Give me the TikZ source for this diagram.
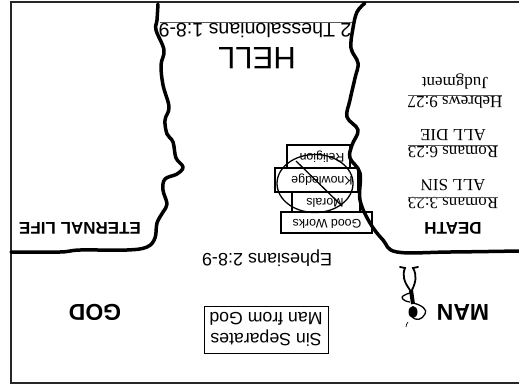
\documentclass[tikz,border=0pt]{standalone}
\usepackage{fontspec}
\setmainfont{Liberation Sans}
\newfontfamily\serifface{Liberation Serif}
\newcommand{\fs}[1]{\fontsize{#1}{#1}\selectfont}
\tikzset{
  x=1pt,y=-1pt,
  upside/.style={rotate=180,inner sep=0pt,text=black},
  sanslabel/.style={upside,font=\fs{18}},
  boldlabel/.style={upside,font=\fs{17}\bfseries},
  biglabel/.style={upside,font=\fs{23}\bfseries},
  seriflabel/.style={upside,font=\serifface\fs{17}},
  booklabel/.style={upside,font=\fs{12.4}},
  chasm/.style={line width=3.5pt,line cap=round,line join=round},
  framing/.style={line width=1.3pt,draw=black!85},
  bookbox/.style={line width=1.2pt,draw=black},
  rule/.style={line width=0.8pt,draw=black!65},
}
\begin{document}
\begin{tikzpicture}
\useasboundingbox (0,0) rectangle (519,389);
\fill[white] (0,0) rectangle (519,389);
% frame
\draw[framing] (519,2) -- (11,2) -- (11,383) -- (519,383);
% thin line over the hell label
\draw[rule] (160,22) -- (352,22);
% books
\draw[bookbox] (287,145) rectangle (350,168);
\draw[bookbox] (292,192) rectangle (360,212);
\draw[bookbox] (275,168) rectangle (358,192);
\draw[bookbox] (281,212) rectangle (372,233);
\node[booklabel] (religion) at (322,157) {Religion};
\node[booklabel] (knowledge) at (322,180) {Knowledge};
\node[booklabel] (morals) at (325,203) {Morals};
\node[booklabel] (works) at (327,224) {Good Works};
% prohibition sign
\draw[line width=1.3pt] (315,183.5) ellipse [x radius=38,y radius=29];
\draw[line width=1.3pt] (296,161) -- (341,205);
% left chasm edge
\draw[chasm] plot[smooth,tension=0.6] coordinates {
 (158,4) (157,20) (156,30) (164,50) (161,65) (163,85) (169,107) (165,120)
 (167,134) (173,142) (176,158) (183,167) (177,174) (165,179) (163,190) (167,204)
 (163,212) (157,223) (155,238) (147,247) (127,250) (80,250) (60,252) (11,252)};
% right chasm edge
\draw[chasm] plot[smooth,tension=0.6] coordinates {
 (365,3) (357,12) (353,28) (351,48) (358,63) (355,78) (350,100) (347,117)
 (358,130) (352,145) (350,158) (360,173) (360,200) (370,223) (383,240) (397,252)
 (450,252) (519,251)};
% labels
\node[upside,font=\fs{31}] (hell) at (257,58) {HELL};
\node[upside,font=\fs{19.6}] (thess) at (255,31) {2 Thessalonians 1:8-9};
\node[boldlabel] (death) at (453,228) {DEATH};
\node[boldlabel] (life) at (80,228) {ETERNAL LIFE};
\node[biglabel] (man) at (463,312) {MAN};
\node[biglabel] (god) at (95,312) {GOD};
\node[sanslabel] (eph) at (267,258) {Ephesians 2:8-9};
\node[draw,line width=0.9pt,rotate=180,minimum width=124pt,minimum height=47pt,align=center,font=\fs{17.7},inner sep=0pt] (sin) at (266,329.5) {Sin Separates\\[3pt]Man from God};
% verses
\node[seriflabel] (r3) at (453,203) {Romans 3:23};
\node[seriflabel] (allsin) at (453,185) {ALL SIN};
\draw[rule] (408,197) -- (498,197);
\node[seriflabel] (r6) at (453,152) {Romans 6:23};
\node[seriflabel] (alldie) at (453,135) {ALL DIE};
\draw[rule] (408,145) -- (498,145);
\node[seriflabel] (h9) at (455,102) {Hebrews 9:27};
\node[seriflabel] (judg) at (455,82) {Judgment};
\draw[rule] (408,95) -- (502,95);
% stick figure
\draw[line width=1.8pt,line cap=round] (400,267) -- (405,268) .. controls (402,275) and (404,282) .. (410,290);
\draw[line width=1.8pt,line cap=round] (418,267) -- (413,268) .. controls (417,275) and (416,282) .. (412,290);
\draw[line width=4pt] (411,290) -- (413,304);
\fill (413,312) ellipse [x radius=4.5,y radius=6];
\draw[line width=1.3pt] (413,303) .. controls (422,305) and (428,310) .. (425,314) .. controls (422,320) and (416,321) .. (412,317);
\draw[line width=1.3pt] (410,302) .. controls (402,301) and (401,297) .. (403,296) .. controls (405,294) and (408,294) .. (410,293);
\draw[line width=0.7pt] (408,322) .. controls (405,323) and (408,325) .. (406,327);
\end{tikzpicture}
\end{document}
